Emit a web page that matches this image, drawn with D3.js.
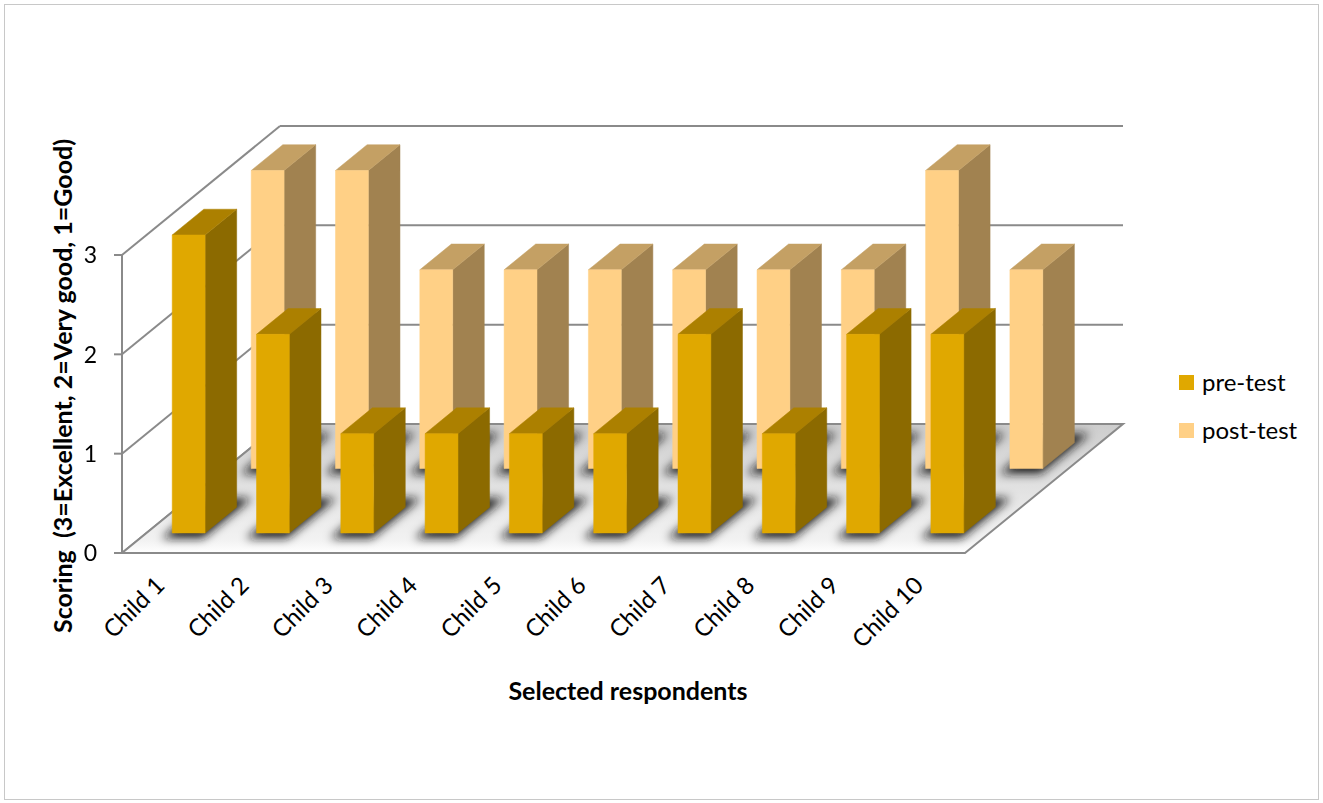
<!DOCTYPE html>
<html>
<head>
<meta charset="utf-8">
<script src="https://cdn.jsdelivr.net/npm/d3@7"></script>
<style>
  html, body { margin: 0; padding: 0; background: #fff; }
  svg { display: block; }
</style>
</head>
<body>
<svg id="chart" width="1323" height="803"></svg>
<script>
// Scores per child, two test rounds
const categories = ["Child 1", "Child 2", "Child 3", "Child 4", "Child 5",
                    "Child 6", "Child 7", "Child 8", "Child 9", "Child 10"];
const preTest  = [3, 2, 1, 1, 1, 1, 2, 1, 2, 2];
const postTest = [3, 3, 2, 2, 2, 2, 2, 2, 3, 2];
const seriesNames = ["pre-test", "post-test"];
const yTicks = [0, 1, 2, 3];
const yTitle = "Scoring  (3=Excellent, 2=Very good, 1=Good)";
const xTitle = "Selected respondents";

const svg = d3.select("#chart");
const FONT = "Lato, 'Open Sans', sans-serif";

// oblique 3-D frame: front plane plus a depth vector
const DX = 158, DY = -129;
const x = d3.scaleBand().domain(categories).range([122, 965])
  .paddingInner(0.61).paddingOuter(0.305);
const y = d3.scaleLinear().domain([0, 3]).range([553, 255]);
const P = (px, v, d) => [px + d * DX, y(v) + d * DY];
const poly = pts => pts.map(p => p.join(",")).join(" ");

const series = [
  { name: seriesNames[0], values: preTest,  d0: 0.155, d1: 0.355,
    front: "#E0A800", side: "#8C6A00", top: "#AC8000" },
  { name: seriesNames[1], values: postTest, d0: 0.655, d1: 0.855,
    front: "#FFD086", side: "#A18250", top: "#C4A064" }
];

// chart border
svg.append("rect").attr("x", 4.5).attr("y", 4.5).attr("width", 1314).attr("height", 795)
  .attr("fill", "none").attr("stroke", "#c8c8c8").attr("stroke-width", 1);

const defs = svg.append("defs");
defs.append("filter").attr("id", "soft").attr("x", "-50%").attr("y", "-50%")
  .attr("width", "200%").attr("height", "200%")
  .append("feGaussianBlur").attr("stdDeviation", 5);

const x0 = x.range()[0], x1 = x.range()[1];
const floorPts = [P(x0, 0, 0), P(x1, 0, 0), P(x1, 0, 1), P(x0, 0, 1)];
defs.append("clipPath").attr("id", "floorClip")
  .append("polygon").attr("points", poly(floorPts));

const grid = svg.append("g").attr("stroke", "#8a8a8a").attr("stroke-width", 2).attr("fill", "none");

// left wall and back wall gridlines
yTicks.forEach(v => {
  const a = P(x0, v, 0), b = P(x0, v, 1), c = P(x1, v, 1);
  if (v > 0) {
    grid.append("line").attr("x1", a[0]).attr("y1", a[1]).attr("x2", b[0]).attr("y2", b[1]);
    grid.append("line").attr("x1", b[0]).attr("y1", b[1]).attr("x2", c[0]).attr("y2", c[1]);
  }
});

// floor with soft shadows around each column footprint
const floor = svg.append("g");
const fg = defs.append("linearGradient").attr("id", "floorGrad")
  .attr("x1", 0).attr("y1", 1).attr("x2", 0).attr("y2", 0);
fg.append("stop").attr("offset", 0).attr("stop-color", "#ffffff");
fg.append("stop").attr("offset", 0.1).attr("stop-color", "#f2f2f2");
fg.append("stop").attr("offset", 1).attr("stop-color", "#cdcdcd");
floor.append("polygon").attr("points", poly(floorPts)).attr("fill", "url(#floorGrad)");
const shadows = floor.append("g").attr("clip-path", "url(#floorClip)")
  .append("g").attr("filter", "url(#soft)");
series.forEach(s => {
  categories.forEach(c => {
    const bx0 = x(c) - 4, bx1 = x(c) + x.bandwidth() + 4;
    const pts = [P(bx0, 0, s.d0 - 0.04), P(bx1, 0, s.d0 - 0.04),
                 P(bx1, 0, s.d1 + 0.07), P(bx0, 0, s.d1 + 0.07)];
    shadows.append("polygon").attr("points", poly(pts)).attr("fill", "#151515").attr("opacity", 0.95);
  });
});
floor.append("polygon").attr("points", poly(floorPts))
  .attr("fill", "none").attr("stroke", "#8a8a8a").attr("stroke-width", 2);
{
  const a = P(x0, 0, 0), b = P(x0, 0, 1);
  grid.append("line").attr("x1", a[0]).attr("y1", a[1]).attr("x2", b[0]).attr("y2", b[1]);
}

// vertical axis line and ticks
svg.append("line").attr("x1", x0).attr("x2", x0).attr("y1", y(0)).attr("y2", y(3))
  .attr("stroke", "#8a8a8a").attr("stroke-width", 2);
svg.append("g").selectAll("line").data(yTicks).join("line")
  .attr("x1", x0 - 8).attr("x2", x0).attr("y1", d => y(d)).attr("y2", d => y(d))
  .attr("stroke", "#8a8a8a").attr("stroke-width", 2);
svg.append("g").selectAll("text").data(yTicks).join("text")
  .attr("x", 97).attr("y", d => y(d)).attr("dy", "0.36em")
  .attr("text-anchor", "end").attr("font-family", FONT).attr("font-size", 23)
  .attr("fill", "#000").text(d => d);

// columns: back row first, then front row
[series[1], series[0]].forEach(s => {
  const g = svg.append("g");
  categories.forEach((c, i) => {
    const v = s.values[i];
    const bx0 = x(c), bx1 = x(c) + x.bandwidth();
    const bar = g.append("g");
    bar.append("polygon").attr("points", poly([P(bx1, 0, s.d0), P(bx1, 0, s.d1), P(bx1, v, s.d1), P(bx1, v, s.d0)]))
      .attr("fill", s.side).attr("stroke", s.side).attr("stroke-width", 0.5);
    bar.append("polygon").attr("points", poly([P(bx0, v, s.d0), P(bx1, v, s.d0), P(bx1, v, s.d1), P(bx0, v, s.d1)]))
      .attr("fill", s.top).attr("stroke", s.top).attr("stroke-width", 0.5);
    bar.append("polygon").attr("points", poly([P(bx0, 0, s.d0), P(bx1, 0, s.d0), P(bx1, v, s.d0), P(bx0, v, s.d0)]))
      .attr("fill", s.front).attr("stroke", s.front).attr("stroke-width", 0.5);
  });
});

// category labels
svg.append("g").selectAll("text").data(categories).join("text")
  .attr("transform", c => `translate(${x(c) + x.bandwidth() / 2 - 10},${575}) rotate(-45)`)
  .attr("text-anchor", "end").attr("font-family", FONT).attr("font-size", 24)
  .attr("dy", "0.7em").attr("fill", "#000").text(c => c);

// axis titles
svg.append("text").attr("x", 628).attr("y", 700).attr("text-anchor", "middle")
  .attr("font-family", FONT).attr("font-weight", "bold").attr("font-size", 25)
  .attr("fill", "#000").text(xTitle);
svg.append("text").attr("transform", "translate(72,386) rotate(-90)")
  .style("white-space", "pre")
  .attr("text-anchor", "middle").attr("font-family", FONT).attr("font-weight", "bold")
  .attr("font-size", 25).attr("fill", "#000").text(yTitle);

// legend
const legend = svg.append("g").selectAll("g").data(series).join("g")
  .attr("transform", (d, i) => `translate(1179,${375 + i * 48})`);
legend.append("rect").attr("width", 15).attr("height", 15).attr("fill", d => d.front);
legend.append("text").attr("x", 23).attr("y", 16).attr("font-family", FONT)
  .attr("font-size", 24).attr("fill", "#000").text(d => d.name);
</script>
</body>
</html>
